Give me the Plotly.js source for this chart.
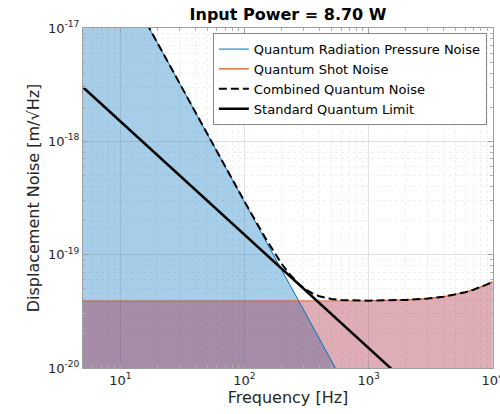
<!DOCTYPE html>
<html>
<head>
<meta charset="utf-8">
<script src="https://cdn.plot.ly/plotly-3.0.1.min.js"></script>
<style>html,body{margin:0;padding:0;background:#fff;}#chart{width:500px;height:414px;}</style>
</head>
<body>
<div id="chart"></div>
<script>
// Values
const freq = [5, 10, 20, 50, 100, 150, 175, 200, 225, 250, 275, 300, 350, 400, 450, 500, 600, 700, 1000, 2000, 3000, 4000, 5000, 6000, 7000, 8000, 9000, 10000];
const rpNoise = [1.166e-15, 2.916e-17, 7.29e-18, 1.166e-18, 2.916e-19, 1.296e-19, 9.52e-20, 7.29e-20, 5.76e-20, 4.666e-20, 3.856e-20, 3.24e-20, 2.38e-20, 1.823e-20, 1.44e-20, 1.166e-20, 8.1e-21, 5.95e-21, 2.916e-21, 7.29e-22, 3.24e-22, 1.82e-22, 1.166e-22, 8.1e-23, 5.95e-23, 4.56e-23, 3.6e-23, 2.916e-23];
const shotNoise = [3.9e-20, 3.9e-20, 3.9e-20, 3.9e-20, 3.9e-20, 3.9e-20, 3.9e-20, 3.9e-20, 3.9e-20, 3.9e-20, 3.9e-20, 3.9e-20, 3.9e-20, 3.9e-20, 3.9e-20, 3.9e-20, 3.9e-20, 3.9e-20, 3.92e-20, 3.99e-20, 4.10e-20, 4.25e-20, 4.44e-20, 4.66e-20, 4.91e-20, 5.17e-20, 5.46e-20, 5.77e-20];
const combinedNoise = [1.166e-15, 2.919e-17, 7.3e-18, 1.167e-18, 2.942e-19, 1.353e-19, 1.029e-19, 8.27e-20, 6.96e-20, 6.08e-20, 5.48e-20, 5.07e-20, 4.57e-20, 4.30e-20, 4.16e-20, 4.07e-20, 3.98e-20, 3.95e-20, 3.93e-20, 3.99e-20, 4.10e-20, 4.25e-20, 4.44e-20, 4.66e-20, 4.91e-20, 5.17e-20, 5.46e-20, 5.77e-20];
const sqlNoise = [3.0e-18, 1.5e-18, 7.5e-19, 3.0e-19, 1.5e-19, 1.0e-19, 8.57e-20, 7.5e-20, 6.67e-20, 6.0e-20, 5.45e-20, 5.0e-20, 4.29e-20, 3.75e-20, 3.33e-20, 3.0e-20, 2.5e-20, 2.14e-20, 1.5e-20, 7.5e-21, 5.0e-21, 3.75e-21, 3.0e-21, 2.5e-21, 2.14e-21, 1.88e-21, 1.67e-21, 1.5e-21];
const fillFloor = 1e-22;
const seriesNames = ['Quantum Radiation Pressure Noise', 'Quantum Shot Noise', 'Combined Quantum Noise', 'Standard Quantum Limit'];
const titleText = 'Input Power = 8.70 W';
const xTickVals = [10, 100, 1000, 10000];
const xTickText = ['10<sup>1</sup>', '10<sup>2</sup>', '10<sup>3</sup>', '10<sup>4</sup>'];
const yTickVals = [1e-20, 1e-19, 1e-18, 1e-17];
const yTickText = ['10<sup>-20</sup>', '10<sup>-19</sup>', '10<sup>-18</sup>', '10<sup>-17</sup>'];

const floorArr = freq.map(() => fillFloor);
const txt = '#262626';
const font = 'DejaVu Sans, sans-serif';

const traces = [
  {x: freq, y: floorArr, mode: 'lines', line: {width: 0}, showlegend: false, hoverinfo: 'skip'},
  {x: freq, y: rpNoise, mode: 'lines', line: {width: 0}, fill: 'tonexty', fillcolor: 'rgba(0,114,189,0.35)', showlegend: false, hoverinfo: 'skip'},
  {x: freq, y: floorArr, mode: 'lines', line: {width: 0}, showlegend: false, hoverinfo: 'skip'},
  {x: freq, y: shotNoise, mode: 'lines', line: {width: 0}, fill: 'tonexty', fillcolor: 'rgba(162,20,47,0.35)', showlegend: false, hoverinfo: 'skip'},
  {x: freq, y: rpNoise, name: seriesNames[0], mode: 'lines', line: {color: 'rgb(0,114,189)', width: 1}},
  {x: freq, y: shotNoise, name: seriesNames[1], mode: 'lines', line: {color: 'rgb(217,83,25)', width: 1.2}},
  {x: freq, y: combinedNoise, name: seriesNames[2], mode: 'lines', line: {color: '#000', width: 2, dash: '8px,4px'}},
  {x: freq, y: sqlNoise, name: seriesNames[3], mode: 'lines', line: {color: '#000', width: 2.5}}
];

const axisCommon = {
  type: 'log', showline: true, linecolor: '#a0a0a0', linewidth: 1, mirror: 'ticks',
  ticks: 'inside', ticklen: 5, tickcolor: '#a0a0a0',
  showgrid: true, gridcolor: '#e2e2e2', gridwidth: 1, zeroline: false,
  tickfont: {family: font, size: 13, color: txt},
  tickmode: 'array', ticklabeloverflow: 'allow',
  minor: {dtick: 'D1', ticks: 'inside', ticklen: 3, tickcolor: '#b0b0b0', showgrid: true, gridcolor: '#efefef', griddash: 'dot'}
};

const layout = {
  width: 500, height: 414,
  margin: {l: 83, r: 7, t: 28, b: 46},
  paper_bgcolor: '#fff', plot_bgcolor: '#fff',
  title: {text: '<b>' + titleText + '</b>', font: {family: font, size: 16, color: '#000'}, x: 0.576, xanchor: 'center', y: 0.966, yanchor: 'middle'},
  xaxis: Object.assign({}, axisCommon, {range: [Math.log10(5), 4.002], tickvals: xTickVals, ticktext: xTickText,
    title: {text: 'Frequency [Hz]', font: {family: font, size: 16, color: txt}, standoff: 4}}),
  yaxis: Object.assign({}, axisCommon, {range: [-20, -17], tickvals: yTickVals, ticktext: yTickText,
    title: {text: 'Displacement Noise [m/√Hz]', font: {family: font, size: 16, color: txt}, standoff: 4}}),
  legend: {x: 0.985, xanchor: 'right', y: 0.985, yanchor: 'top', bgcolor: '#fff', bordercolor: '#888', borderwidth: 1,
    font: {family: font, size: 13, color: '#000'}, itemwidth: 30, tracegroupgap: 0, traceorder: 'normal'},
  showlegend: true
};

Plotly.newPlot('chart', traces, layout, {displayModeBar: false, staticPlot: true});
</script>
</body>
</html>
